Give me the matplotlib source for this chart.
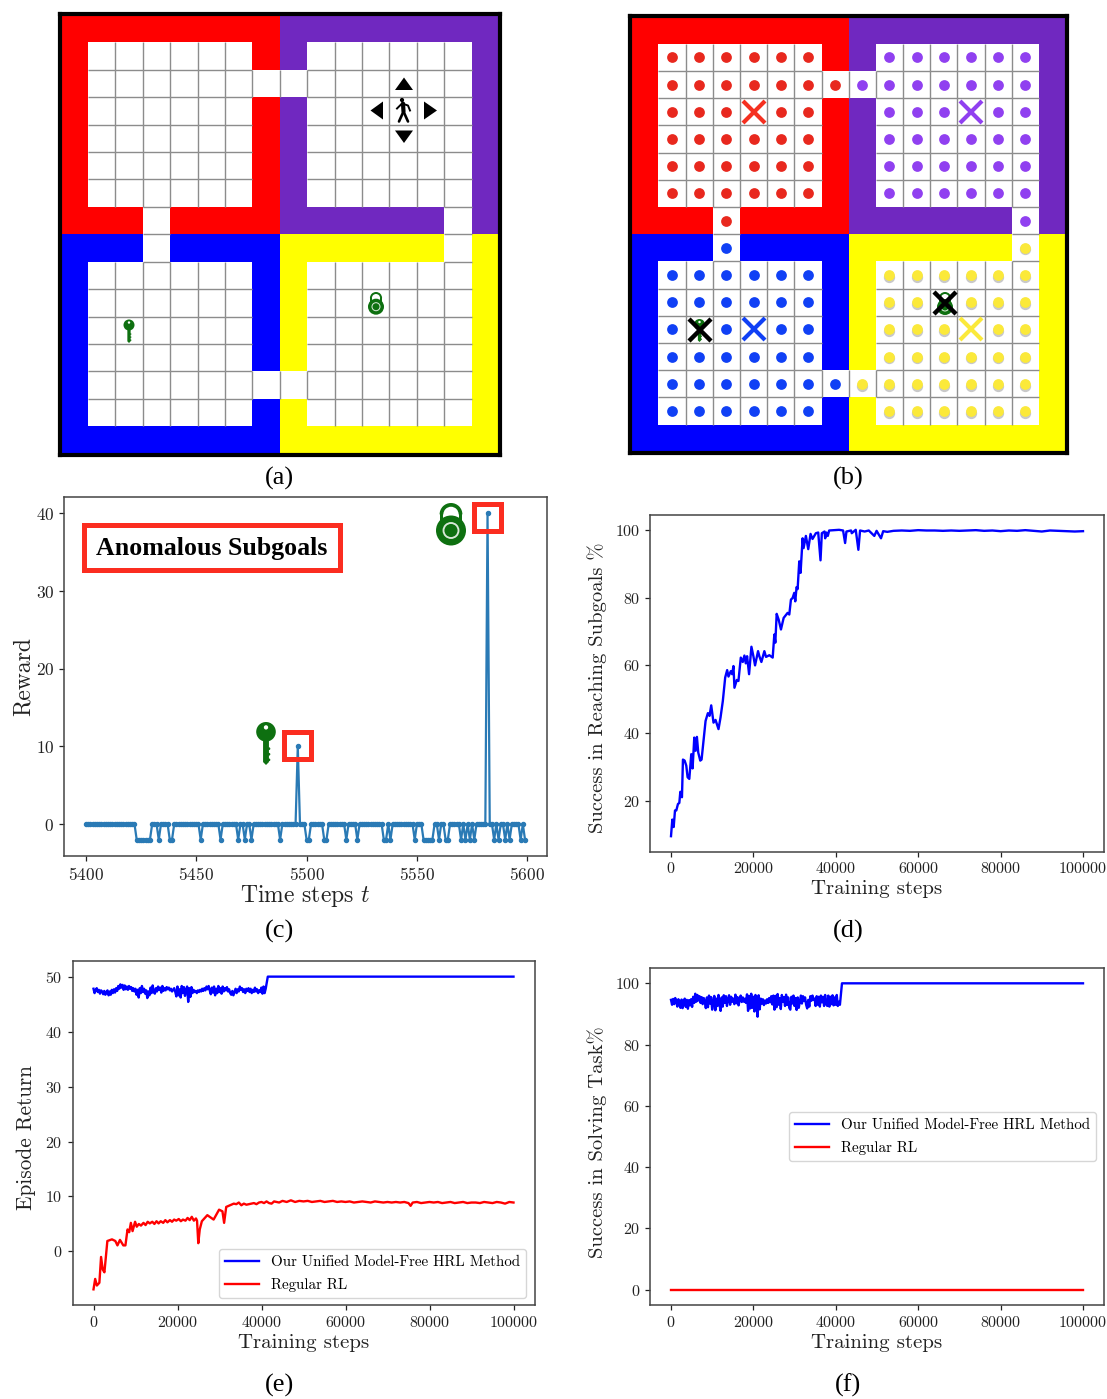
import numpy as np
import matplotlib
matplotlib.use("Agg")
import matplotlib.pyplot as plt
from matplotlib.patches import Rectangle, Circle, Wedge, Polygon
from matplotlib.collections import LineCollection
from matplotlib.colors import ListedColormap

plt.rcParams['font.family'] = ['cmr10', 'DejaVu Serif']
plt.rcParams['mathtext.fontset'] = 'cm'
plt.rcParams['axes.formatter.use_mathtext'] = True

W, H = 1107, 1399

# ---------- gridworld ----------
layout = ["RRRRRRRRPPPPPPPP",
          "R......RP......P",
          "R..............P",
          "R......RP......P",
          "R......RP......P",
          "R......RP......P",
          "R......RP......P",
          "RRR.RRRRPPPPPP.P",
          "BBB.BBBBYYYYYY.Y",
          "B......BY......Y",
          "B......BY......Y",
          "B......BY......Y",
          "B......BY......Y",
          "B..............Y",
          "B......BY......Y",
          "BBBBBBBBYYYYYYYY"]
wall_colors = {'R': '#ff0000', 'P': '#7028c0', 'B': '#0000ff', 'Y': '#ffff00', '.': '#ffffff'}
dot_colors = {'R': '#e8281e', 'P': '#9040f0', 'B': '#1040f5', 'Y': '#fbe93a'}
goal_cells = [(4, 3, 'R'), (12, 3, 'P'), (4, 11, 'B'), (12, 11, 'Y')]
anomaly_cells = [(2, 11), (11, 10)]

# ---------- panel (c) ----------
steps_c = np.arange(5400, 5600)
low_steps = [5423, 5424, 5425, 5426, 5427, 5428, 5429, 5433, 5438, 5439, 5452, 5461, 5469, 5472, 5475,
             5488, 5500, 5501, 5508, 5509, 5518, 5523, 5535, 5536, 5538, 5549, 5553, 5554, 5555, 5556,
             5557, 5560, 5563, 5564, 5570, 5572, 5574, 5576, 5585, 5587, 5590, 5592, 5597, 5599]
peak_steps = [5496, 5582]
peak_values = [10, 40]

# ---------- panel (d) ----------
d_x = [0, 320, 650, 970, 1290, 1690, 2020, 2260, 2660, 2900, 3310, 3710, 4030, 4440, 4920, 5240, 5650, 5970,
       6290, 6610, 7100, 7420, 8390, 8950, 9350, 9760, 10320, 10810, 11530, 12020, 12580, 13150, 13630, 13950,
       14520, 14840, 15160, 15400, 15970, 16370, 16940, 17420, 17820, 18150, 18470, 18950, 19520, 20000, 20400,
       21130, 21450, 21940, 22660, 23060, 23870, 24680, 25080, 25320, 25650, 26130, 26690, 27340, 28310, 28710,
       29110, 29520, 29920, 30160, 30480, 30730, 31130, 31450, 31940, 32180, 32740, 33310, 33870, 34350, 35160,
       35730, 36290, 36610, 37260, 37420, 37740, 38060, 38390, 39500, 40800, 41770, 42260, 42580, 43710, 43870,
       44840, 45480, 45890, 47000, 48000, 49350, 49900, 50970, 51500, 52500, 54000, 56000, 58000, 60000, 62000,
       64000, 66000, 68000, 70000, 72000, 74000, 76000, 78000, 80000, 82000, 84000, 86000, 88000, 90000, 92000,
       94000, 96000, 98000, 100000]
d_y = [9.6, 14.5, 12.3, 17.2, 17.2, 19.1, 19.4, 22.7, 21.1, 32.2, 31.9, 30.4, 27.0, 26.5, 33.8, 29.6, 38.7, 34.8,
       38.9, 34.3, 31.9, 32.2, 43.6, 45.9, 45.1, 48.2, 43.1, 43.9, 41.2, 44.6, 49.5, 56.4, 58.6, 56.7,
       58.3, 57.4, 59.8, 53.4, 55.7, 55.4, 62.3, 61.0, 62.9, 60.6, 62.7, 57.4, 65.5, 62.7, 60.0,
       64.2, 62.7, 61.0, 64.2, 62.5, 63.0, 62.3, 69.1, 66.7, 75.2, 73.5, 70.6, 74.0, 75.5, 75.0,
       79.4, 79.9, 81.4, 78.9, 83.1, 82.5, 90.7, 87.3, 97.5, 94.6, 98.2, 94.3, 98.8, 97.3, 99.0,
       99.2, 91.0, 99.0, 99.5, 97.5, 99.2, 98.2, 99.8, 99.9, 100.0, 99.8, 96.1, 99.5, 99.8, 99.0,
       100.0, 94.1, 99.8, 99.5, 99.8, 98.2, 99.7, 97.5, 99.6, 99.4, 99.7, 99.8, 99.7, 99.9, 99.8,
       99.8, 99.7, 99.8, 99.7, 99.8, 99.9, 99.7, 99.8, 99.6, 99.8, 99.7, 99.9, 99.7, 99.5, 99.8,
       99.7, 99.6, 99.5, 99.6]

# ---------- panel (e) ----------
e_blue_noisy = [47.8, 47.0, 47.6, 47.9, 47.2, 47.6, 46.9, 47.5, 47.3, 46.8, 47.4, 46.7, 47.2, 47.5, 46.6, 47.3, 46.7, 47.6, 47.0, 47.7,
                47.1, 47.9, 47.4, 48.3, 47.8, 48.6, 48.0, 48.5, 47.6, 48.4, 47.7, 48.2, 47.6, 48.3, 47.8, 48.1, 47.4, 47.9, 47.3, 47.8,
                46.7, 47.6, 46.2, 47.9, 47.0, 48.3, 47.2, 47.8, 46.9, 47.5, 46.1, 47.3, 46.6, 48.0, 47.0, 48.4, 47.2, 46.9, 47.9, 47.3,
                48.2, 47.6, 48.0, 47.1, 48.3, 47.4, 47.9, 47.5, 48.1, 47.7, 48.0, 47.5, 47.8, 47.3, 47.6, 47.9, 47.2, 46.4, 48.2, 46.6,
                47.7, 46.2, 48.3, 47.0, 48.1, 46.5, 47.6, 48.2, 45.4, 47.9, 46.3, 48.1, 47.0, 47.6, 47.2, 47.4, 47.0, 47.5, 47.2, 47.6,
                47.3, 47.8, 47.4, 47.9, 47.5, 48.2, 47.7, 48.3, 47.5, 46.8, 48.0, 47.1, 48.2, 46.6, 47.8, 47.0, 48.3, 47.2, 47.9, 46.9,
                48.2, 47.3, 47.9, 47.5, 48.1, 47.3, 47.7, 47.0, 46.7, 47.4, 46.6, 47.2, 47.8, 47.0, 47.7, 47.3, 48.2, 47.6, 47.9, 47.2,
                47.7, 47.0, 47.8, 47.4, 47.9, 47.2, 47.8, 47.0, 47.6, 47.2, 48.0, 47.3, 47.7, 47.0, 47.5, 47.2, 48.0, 46.9, 48.2, 47.0, 47.8]
e_red_x = [0, 400, 800, 1400, 1800, 2200, 2600, 3300, 4400, 5200, 5700, 6300, 7100, 7600, 8100, 8500, 8900, 9300,
           9900, 10300, 10800, 11300, 11900, 12400, 12900, 13400, 14000, 14500, 15000, 15500, 16000, 16600, 17100,
           17600, 18200, 18700, 19200, 19700, 20300, 20800, 21300, 21900, 22400, 22900, 23400, 23900, 24400, 24650,
           24950, 25300, 25800, 27100, 28600, 29900, 30700, 31100, 31600, 33400, 34000, 34600, 35200, 35800, 36400,
           37000, 37600, 38200, 38800, 39400, 40000, 40600, 41200, 41800, 42400, 43000, 43600, 44200, 45000, 46000,
           47000, 48000, 49000, 50000, 51000, 52000, 53000, 54000, 55000, 56000, 57000, 58000, 59000, 60000, 61000,
           62000, 63000, 64000, 65000, 66000, 67000, 68000, 69000, 70000, 71000, 72000, 73000, 74000, 75000, 75500,
           76000, 77000, 78000, 79000, 80000, 81000, 82000, 83000, 84000, 85000, 86000, 87000, 88000, 89000, 90000,
           91000, 92000, 93000, 94000, 95000, 96000, 97000, 98000, 99000, 100000]
e_red_y = [-6.9, -5.0, -6.2, -5.7, -1.0, -3.3, -3.8, 1.9, 2.2, 1.9, 1.1, 2.1, 1.1, 1.1, 4.0, 3.5, 5.2, 3.7,
           5.4, 4.5, 5.0, 4.7, 5.2, 4.8, 5.4, 5.1, 5.4, 5.0, 5.5, 5.1, 5.5, 5.2, 5.7,
           5.3, 5.7, 5.4, 5.8, 5.6, 5.9, 5.5, 5.8, 5.6, 6.1, 5.7, 6.3, 5.6, 6.0, 5.6,
           1.5, 4.0, 5.5, 6.6, 5.8, 7.6, 7.3, 5.2, 8.1, 8.7, 8.6, 8.9, 8.4, 8.7, 8.5,
           8.6, 8.7, 8.8, 8.6, 8.9, 9.0, 8.8, 9.1, 8.8, 8.7, 9.1, 9.0, 8.9, 9.2, 9.0,
           9.3, 9.0, 9.2, 9.1, 9.2, 9.0, 9.1, 9.2, 9.0, 9.1, 9.2, 9.0, 9.1, 9.0, 9.1,
           8.9, 9.0, 9.1, 9.0, 8.9, 9.1, 9.0, 8.9, 9.0, 8.9, 9.0, 8.9, 9.0, 8.8, 8.3,
           8.9, 9.0, 8.8, 8.9, 9.0, 8.9, 9.0, 8.8, 8.9, 9.0, 8.8, 8.9, 9.0, 8.8, 8.9,
           8.9, 8.8, 9.0, 8.9, 8.8, 9.0, 8.9, 8.7, 9.0, 8.9]

# ---------- panel (f) ----------
f_blue_noisy = [94.6, 93.0, 94.9, 93.2, 95.2, 93.9, 92.4, 94.8, 93.1, 92.0, 94.7, 91.9, 93.9, 95.0, 92.3, 94.6, 91.7, 94.5, 92.8, 94.8,
                92.3, 95.6, 93.6, 96.6, 94.0, 96.2, 94.4, 95.8, 93.6, 95.5, 93.2, 95.2, 94.0, 91.9, 95.4, 92.2, 96.0, 93.4, 95.5, 91.4,
                93.8, 95.9, 91.2, 95.0, 92.6, 96.2, 93.0, 91.0, 95.4, 92.4, 96.1, 93.6, 95.8, 92.6, 94.8, 96.1, 93.0, 95.6, 94.0, 95.0,
                93.2, 96.3, 93.5, 95.5, 92.8, 94.6, 96.0, 93.9, 95.4, 94.0, 95.0, 93.6, 96.4, 91.0, 95.9, 91.8, 96.6, 92.0, 95.6, 90.8,
                96.2, 93.2, 89.1, 96.1, 91.5, 95.0, 93.4, 94.8, 92.9, 94.4, 93.4, 94.8, 93.6, 95.2, 93.8, 95.8, 93.1, 96.0, 91.4, 95.9,
                92.2, 96.5, 93.0, 95.2, 91.6, 96.2, 94.0, 95.5, 92.6, 96.3, 93.0, 95.4, 92.0, 91.4, 95.6, 93.4, 96.0, 92.6, 95.2, 91.3,
                95.4, 92.0, 93.9, 96.0, 93.4, 95.8, 94.2, 95.4, 93.0, 91.8, 94.6, 92.4, 95.8, 94.3, 96.0, 94.6, 95.0, 92.6, 95.8, 93.0,
                95.6, 92.4, 96.0, 93.8, 95.6, 92.6, 96.2, 93.4, 92.6, 96.0, 92.4, 95.6, 93.2, 96.1, 92.8, 95.4, 93.0, 96.2, 92.6, 94.0, 93.0]
noisy_end = 41000
switch_step = 41500
final_step = 100000
e_final = 50
f_final = 100
f_red_x = [0, 100000]
f_red_y = [0, 0]

xticks_train = [0, 20000, 40000, 60000, 80000, 100000]
legend_labels = ['Our Unified Model-Free HRL Method', 'Regular RL']
captions = ['(a)', '(b)', '(c)', '(d)', '(e)', '(f)']

fig = plt.figure(figsize=(W / 100, H / 100), dpi=100, facecolor='white')


def px_axes(l, t, r, b):
    return fig.add_axes([l / W, 1 - b / H, (r - l) / W, (b - t) / H])


def style(ax):
    for s in ax.spines.values():
        s.set_color('#444444')
        s.set_linewidth(1.1)
    ax.tick_params(labelsize=11.5, colors='#222222', length=3.5, width=0.9)


def draw_world(l, t, r, b):
    ax = px_axes(l, t, r, b)
    keys = list(wall_colors)
    idx = np.array([[keys.index(c) for c in row] for row in layout])
    ax.pcolormesh(np.arange(17), np.arange(17), idx, cmap=ListedColormap([wall_colors[k] for k in keys]),
                  vmin=0, vmax=len(keys) - 1)
    segs = []
    for y in range(16):
        for x in range(16):
            if layout[y][x] != '.':
                continue
            if x < 15 and layout[y][x + 1] == '.':
                segs.append([(x + 1, y), (x + 1, y + 1)])
            if y < 15 and layout[y + 1][x] == '.':
                segs.append([(x, y + 1), (x + 1, y + 1)])
    ax.add_collection(LineCollection(segs, colors='#8c8c8c', linewidths=1.0))
    ax.set_xlim(-0.04, 16.04)
    ax.set_ylim(16.04, -0.04)
    ax.set_xticks([])
    ax.set_yticks([])
    for s in ax.spines.values():
        s.set_linewidth(3)
        s.set_color('black')
    return ax


def quadrant(x, y):
    return ('R' if x < 8 else 'P') if y < 8 else ('B' if x < 8 else 'Y')


ax_a = draw_world(59.5, 14, 500, 454.6)
ax_b = draw_world(630.2, 15.5, 1067.2, 453)
skip = {(g[0], g[1]) for g in goal_cells} | set(anomaly_cells)
for y, row in enumerate(layout):
    for x, c in enumerate(row):
        if c == '.' and (x, y) not in skip:
            q = quadrant(x, y)
            if q == 'Y':
                ax_b.scatter(x + 0.5, y + 0.56, s=66, color='#888888', alpha=0.45, linewidths=0, zorder=3)
            ax_b.scatter(x + 0.5, y + 0.5, s=60, color=dot_colors[q], linewidths=0, zorder=4)
for gx, gy, q in goal_cells:
    ax_b.plot(gx + 0.5, gy + 0.5, marker='x', ms=16, mew=3, color=dot_colors[q] if q != 'R' else '#f53020', zorder=5)

# overlay for icons and captions, in pixel coordinates
ov = fig.add_axes([0, 0, 1, 1], facecolor='none')
ov.set_xlim(0, W)
ov.set_ylim(H, 0)
ov.axis('off')
ov.set_zorder(20)
GREEN = '#0e7010'


def draw_key(cx, top, bot, rad):
    ov.add_patch(Circle((cx, top + rad), rad, color=GREEN, lw=0))
    ov.add_patch(Circle((cx, top + rad * 0.55), rad * 0.22, color='white', lw=0))
    hw = rad * 0.3
    ov.add_patch(Polygon([(cx - hw, top + rad), (cx + hw, top + rad), (cx + hw, bot - hw),
                          (cx, bot), (cx - hw, bot - hw)], color=GREEN, lw=0))
    for frac in (0.62, 0.75, 0.88):
        ov.add_patch(Circle((cx + hw, top + frac * (bot - top)), rad * 0.14, color=GREEN, lw=0))


def draw_lock(cx, top, cy, rad):
    outer = rad * 0.76
    thick = rad * 0.25
    arc_cy = top + outer
    ov.add_patch(Wedge((cx, arc_cy), outer, 180, 360, width=thick, color=GREEN, lw=0))
    ov.add_patch(Rectangle((cx - outer, arc_cy), thick, cy - arc_cy, color=GREEN, lw=0))
    ov.add_patch(Rectangle((cx + outer - thick, arc_cy), thick, cy - arc_cy, color=GREEN, lw=0))
    ov.add_patch(Circle((cx, cy), rad, color=GREEN, lw=0))
    ov.add_patch(Circle((cx, cy), rad * 0.5, fill=False, ec='#d8e8d8', lw=rad * 0.09))


def draw_agent(cx, cy):
    ov.add_patch(Circle((cx - 2, cy - 10.5), 2.1, color='black', lw=0))
    ov.plot([cx - 1, cx - 0.5], [cy - 7, cy + 1], color='black', lw=3, solid_capstyle='round')
    ov.plot([cx - 0.5, cx - 5], [cy + 1, cy + 11], color='black', lw=1.9, solid_capstyle='round')
    ov.plot([cx - 0.5, cx + 4], [cy + 1, cy + 11], color='black', lw=1.9, solid_capstyle='round')
    ov.plot([cx - 7, cx - 2, cx + 4, cx + 6], [cy - 2, cy - 7, cy - 5, cy + 0], color='black', lw=1.4)


def tri(points):
    ov.add_patch(Polygon(points, color='black', lw=0))


draw_key(129, 319.5, 343, 5.5)
draw_lock(376, 292, 306.7, 8)
draw_agent(404, 110.5)
tri([(395, 90), (413, 90), (404, 77.5)])
tri([(395, 130.5), (413, 130.5), (404, 143)])
tri([(383, 101.5), (383, 119.5), (370.5, 110.5)])
tri([(424, 101.5), (424, 119.5), (437, 110.5)])

draw_key(699.5, 319, 342, 5.5)
draw_lock(945, 292, 307, 8)
ov.plot(699.5, 330, marker='x', ms=16, mew=3.2, color='black')
ov.plot(945, 303, marker='x', ms=16, mew=3.2, color='black')

# panel (c)
ax_c = px_axes(64, 497, 547, 856)
rewards = np.zeros(len(steps_c))
rewards[np.isin(steps_c, low_steps)] = -2
for s, v in zip(peak_steps, peak_values):
    rewards[steps_c == s] = v
ax_c.plot(steps_c, rewards, '-o', color='#2a7ab5', lw=1.6, ms=2.9)
ax_c.set_xticks([5400, 5450, 5500, 5550, 5600])
ax_c.set_yticks([0, 10, 20, 30, 40])
ax_c.set_xlabel('Time steps $t$', fontsize=17, labelpad=0, color='#222222')
ax_c.set_ylabel('Reward', fontsize=17, labelpad=1, color='#222222')
style(ax_c)
ax_c.tick_params(labelsize=12.5)

RED_BOX = '#fb2d20'
for (x0, y0, x1, y1) in [(83.5, 524.5, 339.5, 569.5), (283.5, 731.5, 311, 759), (473.5, 503.5, 501, 531)]:
    ov.add_patch(Rectangle((x0, y0), x1 - x0, y1 - y0, fill=False, ec=RED_BOX, lw=3.6, joinstyle='miter'))
ov.text(212, 549, 'Anomalous Subgoals', ha='center', va='center', fontsize=18.6, fontweight='bold',
        family=['Liberation Serif'], color='black')
draw_key(266, 722, 765, 9.8)
draw_lock(451, 503, 530.5, 15)

# panel (d)
ax_d = px_axes(650.4, 514.5, 1103.6, 851.5)
ax_d.plot(d_x, d_y, color='#0000ff', lw=1.7)
ax_d.set_xticks(xticks_train)
ax_d.set_yticks([20, 40, 60, 80, 100])
ax_d.set_xlabel('Training steps', fontsize=15, labelpad=3, color='#222222')
ax_d.set_ylabel('Success in Reaching Subgoals %', fontsize=14.85, labelpad=6, color='#222222',
                y=(851.5 - 688) / 337)
style(ax_d)

# panel (e)
ax_e = px_axes(72.5, 961, 534.5, 1305)
ex = np.r_[np.linspace(0, noisy_end, len(e_blue_noisy)), switch_step, final_step]
ax_e.plot(ex, e_blue_noisy + [e_final, e_final], color='#0000ff', lw=1.7, label=legend_labels[0])
ax_e.plot(e_red_x, e_red_y, color='#ff0000', lw=1.7, label=legend_labels[1])
ax_e.set_xticks(xticks_train)
ax_e.set_yticks([0, 10, 20, 30, 40, 50])
ax_e.set_xlabel('Training steps', fontsize=15, labelpad=3, color='#222222')
ax_e.set_ylabel('Episode Return', fontsize=15.3, labelpad=7, color='#222222', y=(1305 - 1137.5) / 344)
style(ax_e)
ax_e.legend(loc='lower right', fontsize=10.8, handlelength=2.27, borderaxespad=0,
            bbox_to_anchor=((526 - 72.5) / 462, (1305 - 1298) / 344), labelspacing=0.6)

# panel (f)
ax_f = px_axes(650.4, 968, 1103.6, 1305)
fx = np.r_[np.linspace(0, noisy_end, len(f_blue_noisy)), switch_step, final_step]
ax_f.plot(fx, f_blue_noisy + [f_final, f_final], color='#0000ff', lw=1.7, label=legend_labels[0])
ax_f.plot(f_red_x, f_red_y, color='#ff0000', lw=1.7, label=legend_labels[1])
ax_f.set_xticks(xticks_train)
ax_f.set_yticks([0, 20, 40, 60, 80, 100])
ax_f.set_xlabel('Training steps', fontsize=15, labelpad=3, color='#222222')
ax_f.set_ylabel('Success in Solving Task%', fontsize=14.85, labelpad=6, color='#222222', y=(1305 - 1142) / 337)
style(ax_f)
ax_f.legend(loc='lower right', fontsize=10.8, handlelength=2.27, borderaxespad=0,
            bbox_to_anchor=((1096 - 650.4) / 453.2, (1305 - 1161) / 337), labelspacing=0.6)

# captions
for label, cx, cy in zip(captions, [279, 848, 279, 848, 279, 848], [478, 478, 931, 931, 1385, 1385]):
    ov.text(cx, cy, label, ha='center', va='center', fontsize=19, family=['Liberation Serif'], color='black')

fig.savefig('out.png', dpi=100)
